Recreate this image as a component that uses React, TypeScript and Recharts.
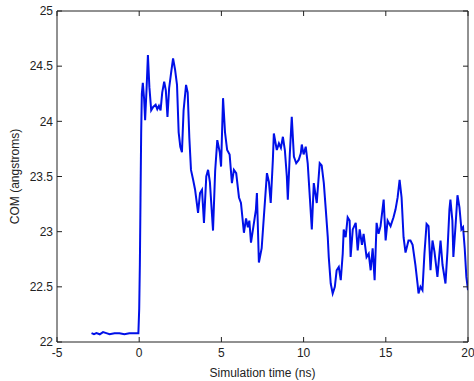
import React from 'react';
import { LineChart, Line, XAxis, YAxis } from 'recharts';

const timeNs = [
  -2.9, -2.75, -2.6, -2.4, -2.2, -2.0, -1.8, -1.5, -1.2, -0.9, -0.6, -0.3, -0.05,
  0.0, 0.04, 0.08, 0.12, 0.16, 0.22, 0.3, 0.36, 0.45, 0.53, 0.62, 0.73, 0.85,
  1.0, 1.1, 1.2, 1.3, 1.4, 1.52, 1.62, 1.72, 1.82, 1.94, 2.06, 2.18, 2.3, 2.4,
  2.5, 2.6, 2.7, 2.85, 2.95, 3.05, 3.15, 3.28, 3.4, 3.58, 3.7, 3.82, 3.94, 4.08,
  4.19, 4.3, 4.49, 4.62, 4.75, 4.9, 4.98, 5.1, 5.22, 5.35, 5.5, 5.64, 5.76, 5.9,
  6.07, 6.19, 6.37, 6.5, 6.61, 6.7, 6.8, 6.95, 7.1, 7.16, 7.28, 7.45, 7.58, 7.77,
  7.89, 8.0, 8.13, 8.19, 8.37, 8.5, 8.62, 8.74, 8.86, 8.98, 9.04, 9.16, 9.28,
  9.41, 9.55, 9.7, 9.83, 9.89, 10.0, 10.13, 10.25, 10.38, 10.5, 10.62, 10.8,
  10.98, 11.1, 11.23, 11.35, 11.47, 11.53, 11.65, 11.77, 11.9, 12.01, 12.14,
  12.26, 12.38, 12.44, 12.56, 12.68, 12.8, 12.86, 12.99, 13.17, 13.29, 13.41,
  13.55, 13.65, 13.83, 13.96, 14.08, 14.2, 14.32, 14.44, 14.56, 14.68, 14.87,
  14.99, 15.11, 15.29, 15.47, 15.59, 15.72, 15.84, 15.96, 16.08, 16.2, 16.38,
  16.5, 16.63, 16.8, 16.93, 16.99, 17.11, 17.23, 17.35, 17.48, 17.6, 17.72,
  17.84, 17.96, 18.14, 18.33, 18.45, 18.63, 18.75, 18.87, 18.93, 19.05, 19.11,
  19.24, 19.36, 19.48, 19.6, 19.7, 19.8, 19.9, 20.0,
];

const comAngstroms = [
  22.08, 22.07, 22.08, 22.07, 22.09, 22.08, 22.07, 22.08, 22.08, 22.07, 22.08, 22.08, 22.08,
  22.3, 22.7, 23.3, 23.9, 24.25, 24.35, 24.2, 24.01, 24.3, 24.6, 24.31, 24.1, 24.13,
  24.15, 24.11, 24.14, 24.1, 24.26, 24.36, 24.28, 24.04, 24.3, 24.44, 24.57, 24.47, 24.33, 23.9,
  23.77, 23.72, 24.1, 24.33, 24.26, 23.85, 23.56, 23.47, 23.38, 23.17, 23.35, 23.38, 23.08, 23.5,
  23.56, 23.45, 23.01, 23.55, 23.83, 23.72, 23.59, 24.21, 23.9, 23.74, 23.7, 23.44, 23.56, 23.53,
  23.31, 23.26, 22.99, 23.12, 23.04, 23.1, 22.9, 23.05, 23.2, 23.35, 22.72, 22.85, 23.13, 23.53,
  23.45, 23.26, 23.65, 23.89, 23.74, 23.8, 23.76, 23.86, 23.74, 23.5, 23.29, 23.7, 24.04,
  23.68, 23.62, 23.65, 23.71, 23.79, 23.7, 23.77, 23.62, 23.31, 23.02, 23.44, 23.26,
  23.62, 23.6, 23.44, 23.2, 22.95, 22.77, 22.53, 22.44, 22.5, 22.65, 22.68,
  22.56, 22.8, 23.02, 22.95, 23.13, 23.1, 22.77, 23.02, 23.08, 22.83, 23.02,
  22.88, 22.98, 22.77, 22.8, 22.65, 22.85, 22.56, 23.08, 22.98, 23.05, 23.29,
  22.92, 23.1, 23.05, 23.13, 23.2, 23.31, 23.47, 23.31, 22.95, 22.81, 22.92,
  22.92, 22.88, 22.7, 22.53, 22.44, 22.5, 22.47, 22.8, 23.07, 23.05, 22.65,
  22.92, 22.82, 22.59, 22.92, 22.7, 22.53, 22.82, 23.2, 23.29, 23.1, 22.77,
  23.05, 23.33, 23.22, 23.02, 23.04, 22.85, 22.59, 22.47,
];

const xTicks = [-5, 0, 5, 10, 15, 20];
const yTicks = [22, 22.5, 23, 23.5, 24, 24.5, 25];

const data = timeNs.map((t, i) => ({ t, com: comAngstroms[i] }));

const font = 'Arial, "Liberation Sans", Helvetica, sans-serif';
const tickStyle = { fontSize: 12, fill: '#222', fontFamily: font };
const axisColor = '#222';

export default function App() {
  return (
    <div style={{ position: 'absolute', left: 0, top: 0, background: '#fff' }}>
      <LineChart
        width={474}
        height={381}
        data={data}
        margin={{ top: 10, right: 5, bottom: 0, left: 0 }}
      >
        <XAxis
          xAxisId="bottom"
          dataKey="t"
          type="number"
          orientation="bottom"
          domain={[-5, 20]}
          ticks={xTicks}
          allowDataOverflow
          height={39}
          tickSize={-5}
          tickMargin={11}
          stroke={axisColor}
          tick={tickStyle}
          label={{
            value: 'Simulation time (ns)',
            position: 'insideBottom',
            offset: 4,
            style: { fontSize: 12, fill: '#222', fontFamily: font },
          }}
        />
        <XAxis
          xAxisId="top"
          dataKey="t"
          type="number"
          orientation="top"
          domain={[-5, 20]}
          ticks={xTicks}
          allowDataOverflow
          height={1}
          tickSize={-5}
          stroke={axisColor}
          tick={{ fontSize: 1, fill: 'none' }}
          tickFormatter={() => ''}
        />
        <YAxis
          yAxisId="left"
          type="number"
          orientation="left"
          domain={[22, 25]}
          ticks={yTicks}
          allowDataOverflow
          width={57}
          tickSize={-5}
          tickMargin={9}
          stroke={axisColor}
          tick={tickStyle}
          label={{
            value: 'COM (angstroms)',
            angle: -90,
            position: 'insideLeft',
            offset: 15,
            style: { fontSize: 12, fill: '#222', fontFamily: font, textAnchor: 'middle' },
          }}
        />
        <YAxis
          yAxisId="right"
          type="number"
          orientation="right"
          domain={[22, 25]}
          ticks={yTicks}
          allowDataOverflow
          width={1}
          tickSize={-5}
          stroke={axisColor}
          tick={{ fontSize: 1, fill: 'none' }}
          tickFormatter={() => ''}
        />
        <Line
          xAxisId="bottom"
          yAxisId="left"
          dataKey="com"
          type="linear"
          stroke="#0010e8"
          strokeWidth={2}
          dot={false}
          isAnimationActive={false}
        />
      </LineChart>
    </div>
  );
}
